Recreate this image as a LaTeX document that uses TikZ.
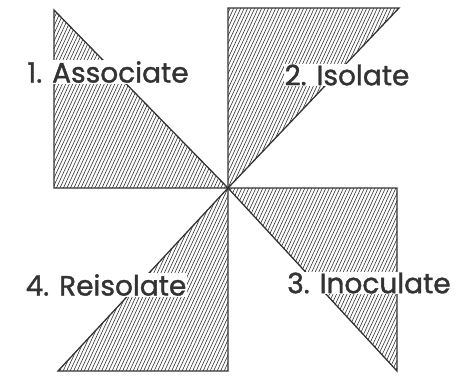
\documentclass[tikz,border=0pt]{standalone}
\usepackage{fontspec}
\newfontfamily\handfont[FakeBold=1.3]{Poppins}
\usepackage{tikz}
\usetikzlibrary{positioning}

\begin{document}
\begin{tikzpicture}[x=1pt, y=-1pt,
    tri/.style={draw=black!80, line width=1.3pt, line join=miter},
    hatch/.style={draw=black!80, line width=0.6pt},
    lbl/.style={fill=white, text=black!80, inner sep=1pt, font=\handfont\fontsize{28}{30}\selectfont}]
  \useasboundingbox (0,0) rectangle (464,376);
  \coordinate (hub) at (228,188);

  % Four right triangles meeting at the hub, each hatched
  \foreach \ax/\ay/\bx/\by in {54/10/54/188, 228/8/399/8, 397/188/397/371, 228/371/58/371} {
    \begin{scope}
      \clip (hub) -- (\ax,\ay) -- (\bx,\by) -- cycle;
      \foreach \s in {-200,-196.5,...,480}
        \draw[hatch] (\s,380) -- ++(175,-380);
    \end{scope}
    \draw[tri] (hub) -- (\ax,\ay) -- (\bx,\by) -- cycle;
  }

  % Step labels
  \node[lbl] (assoc) at (108,72) {1. Associate};
  \node[lbl] (isol) at (347,75) {2. Isolate};
  \node[lbl] (inoc) at (369,283) {3. Inoculate};
  \node[lbl] (reis) at (106,285) {4. Reisolate};
\end{tikzpicture}
\end{document}
